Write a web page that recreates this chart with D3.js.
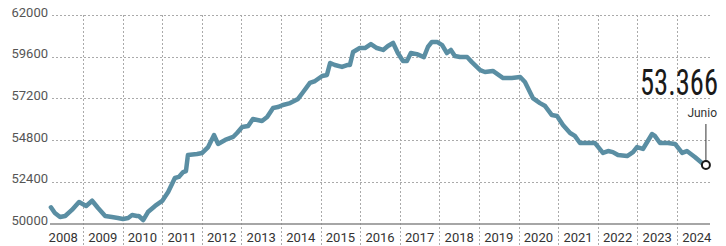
<!DOCTYPE html>
<html>
<head>
<meta charset="utf-8">
<script src="https://cdn.jsdelivr.net/npm/d3@7"></script>
<style>
  body { margin: 0; background: #fff; }
  svg { display: block; }
</style>
</head>
<body>
<div id="chart"></div>
<script>
// position in (fractional) years
var dates = [2008.19, 2008.29, 2008.42, 2008.55, 2008.72, 2008.90, 2009.08, 2009.23, 2009.38, 2009.56,
  2009.73, 2009.88, 2010.01, 2010.14, 2010.24, 2010.36, 2010.41, 2010.52, 2010.64, 2010.82,
  2011.00, 2011.15, 2011.32, 2011.42, 2011.53, 2011.60, 2011.65, 2011.88, 2012.01, 2012.16,
  2012.31, 2012.41, 2012.59, 2012.79, 2012.89, 2013.02, 2013.17, 2013.29, 2013.52, 2013.65,
  2013.80, 2013.92, 2014.05, 2014.23, 2014.43, 2014.56, 2014.73, 2014.86, 2015.04, 2015.16,
  2015.24, 2015.36, 2015.54, 2015.67, 2015.74, 2015.82, 2015.99, 2016.12, 2016.27, 2016.42,
  2016.58, 2016.70, 2016.83, 2016.95, 2017.08, 2017.18, 2017.28, 2017.43, 2017.61, 2017.71,
  2017.81, 2017.94, 2018.07, 2018.19, 2018.29, 2018.39, 2018.52, 2018.70, 2018.82, 2019.03,
  2019.15, 2019.35, 2019.61, 2019.83, 2020.04, 2020.16, 2020.36, 2020.54, 2020.67, 2020.84,
  2020.97, 2021.12, 2021.30, 2021.42, 2021.55, 2021.70, 2021.93, 2022.13, 2022.26, 2022.38,
  2022.51, 2022.74, 2022.89, 2022.99, 2023.14, 2023.37, 2023.44, 2023.57, 2023.77, 2023.95,
  2024.13, 2024.25, 2024.45, 2024.63, 2024.73];
var values = [50930, 50600, 50370, 50430, 50780, 51240, 51010, 51310, 50890, 50430,
  50370, 50320, 50260, 50320, 50490, 50430, 50430, 50200, 50660, 51010,
  51300, 51810, 52620, 52680, 52960, 53020, 53940, 54000, 54060, 54400,
  55090, 54580, 54810, 54980, 55210, 55550, 55610, 56010, 55900, 56130,
  56650, 56700, 56820, 56930, 57170, 57570, 58090, 58200, 58490, 58550,
  59240, 59120, 59010, 59120, 59120, 59870, 60100, 60100, 60330, 60100,
  59990, 60220, 60390, 59810, 59350, 59350, 59810, 59750, 59580, 60160,
  60450, 60450, 60270, 59810, 59990, 59640, 59580, 59580, 59290, 58830,
  58720, 58780, 58370, 58370, 58430, 58140, 57220, 56930, 56760, 56240,
  56190, 55670, 55210, 55040, 54630, 54630, 54630, 54060, 54170, 54110,
  53940, 53880, 54110, 54400, 54290, 55150, 55040, 54630, 54630, 54580,
  54060, 54170, 53830, 53480, 53366];
var years = [2008, 2009, 2010, 2011, 2012, 2013, 2014, 2015, 2016, 2017, 2018, 2019, 2020, 2021, 2022, 2023, 2024];
var yTicks = [50000, 52400, 54800, 57200, 59600, 62000];
var lastLabel = "53.366";
var lastMonth = "Junio";

var width = 726, height = 246;
var svg = d3.select("#chart").append("svg")
  .attr("width", width)
  .attr("height", height);

var x = d3.scaleLinear().domain([2009, 2024]).range([83, 677]);
var y = d3.scaleLinear().domain([50000, 62000]).range([223.5, 15]);

var data = dates.map(function(d, i){ return {t: d, v: values[i]}; });

/* grid */
svg.selectAll("line.hgrid")
  .data(yTicks.slice(1))
  .enter()
  .append("line")
  .attr("class", "hgrid")
  .attr("x1", 52)
  .attr("x2", 710)
  .attr("y1", function(d){ return Math.round(y(d)) + 0.5; })
  .attr("y2", function(d){ return Math.round(y(d)) + 0.5; })
  .attr("stroke", "#aaa")
  .attr("stroke-width", 1)
  .attr("stroke-dasharray", "2,2");

svg.selectAll("line.vgrid")
  .data(years.slice(1))
  .enter()
  .append("line")
  .attr("class", "vgrid")
  .attr("x1", function(d){ return Math.round(x(d)) + 0.5; })
  .attr("x2", function(d){ return Math.round(x(d)) + 0.5; })
  .attr("y1", y(62000))
  .attr("y2", height)
  .attr("stroke", "#aaa")
  .attr("stroke-width", 1)
  .attr("stroke-dasharray", "2,2");

// baseline
svg.append("line")
  .attr("x1", 50)
  .attr("x2", 710)
  .attr("y1", y(50000) + 0.5)
  .attr("y2", y(50000) + 0.5)
  .attr("stroke", "#888")
  .attr("stroke-width", 1.5);

/* y labels */
svg.selectAll("text.ylab")
  .data(yTicks)
  .enter()
  .append("text")
  .attr("class", "ylab")
  .text(function(d){ return d; })
  .attr("x", 48)
  .attr("y", function(d){ return y(d) + 1.5; })
  .attr("text-anchor", "end")
  .attr("font-family", "Roboto, sans-serif")
  .attr("font-size", 13)
  .attr("fill", "#555");

/* x labels */
svg.selectAll("text.xlab")
  .data(years)
  .enter()
  .append("text")
  .attr("class", "xlab")
  .text(function(d){ return d; })
  .attr("x", function(d){ return x(d + 0.5); })
  .attr("y", 242)
  .attr("text-anchor", "middle")
  .attr("font-family", "Roboto, sans-serif")
  .attr("font-size", 13)
  .attr("fill", "#333");

/* series */
var line = d3.line()
  .x(function(d){ return x(d.t); })
  .y(function(d){ return y(d.v); });

svg.append("path")
  .datum(data)
  .attr("d", line)
  .attr("fill", "none")
  .attr("stroke", "#5a8ea3")
  .attr("stroke-width", 4.5)
  .attr("stroke-linejoin", "round")
  .attr("stroke-linecap", "round");

/* last value */
var last = data[data.length - 1];
var lx = x(last.t), ly = y(last.v);

svg.append("line")
  .attr("x1", lx)
  .attr("x2", lx)
  .attr("y1", 124)
  .attr("y2", ly - 4)
  .attr("stroke", "#333")
  .attr("stroke-width", 1);

svg.append("circle")
  .attr("cx", lx)
  .attr("cy", ly)
  .attr("r", 4)
  .attr("fill", "#fff")
  .attr("stroke", "#1a1a1a")
  .attr("stroke-width", 2);

svg.append("text")
  .text(lastMonth)
  .attr("x", 717)
  .attr("y", 117)
  .attr("text-anchor", "end")
  .attr("font-family", "Roboto, sans-serif")
  .attr("font-size", 12)
  .attr("fill", "#333");

// big number: squeeze horizontally with a transform so it spans ~78px
var big = svg.append("text")
  .text(lastLabel)
  .attr("x", 0)
  .attr("y", 0)
  .attr("text-anchor", "end")
  .attr("font-family", "'Liberation Sans Narrow', 'Roboto Condensed', 'DejaVu Sans Condensed', sans-serif")
  .attr("font-size", 37)
  .attr("fill", "#1a1a1a");
var bw = big.node().getComputedTextLength();
big.attr("transform", "translate(718,95) scale(" + (78 / bw) + ",1)");
</script>
</body>
</html>
